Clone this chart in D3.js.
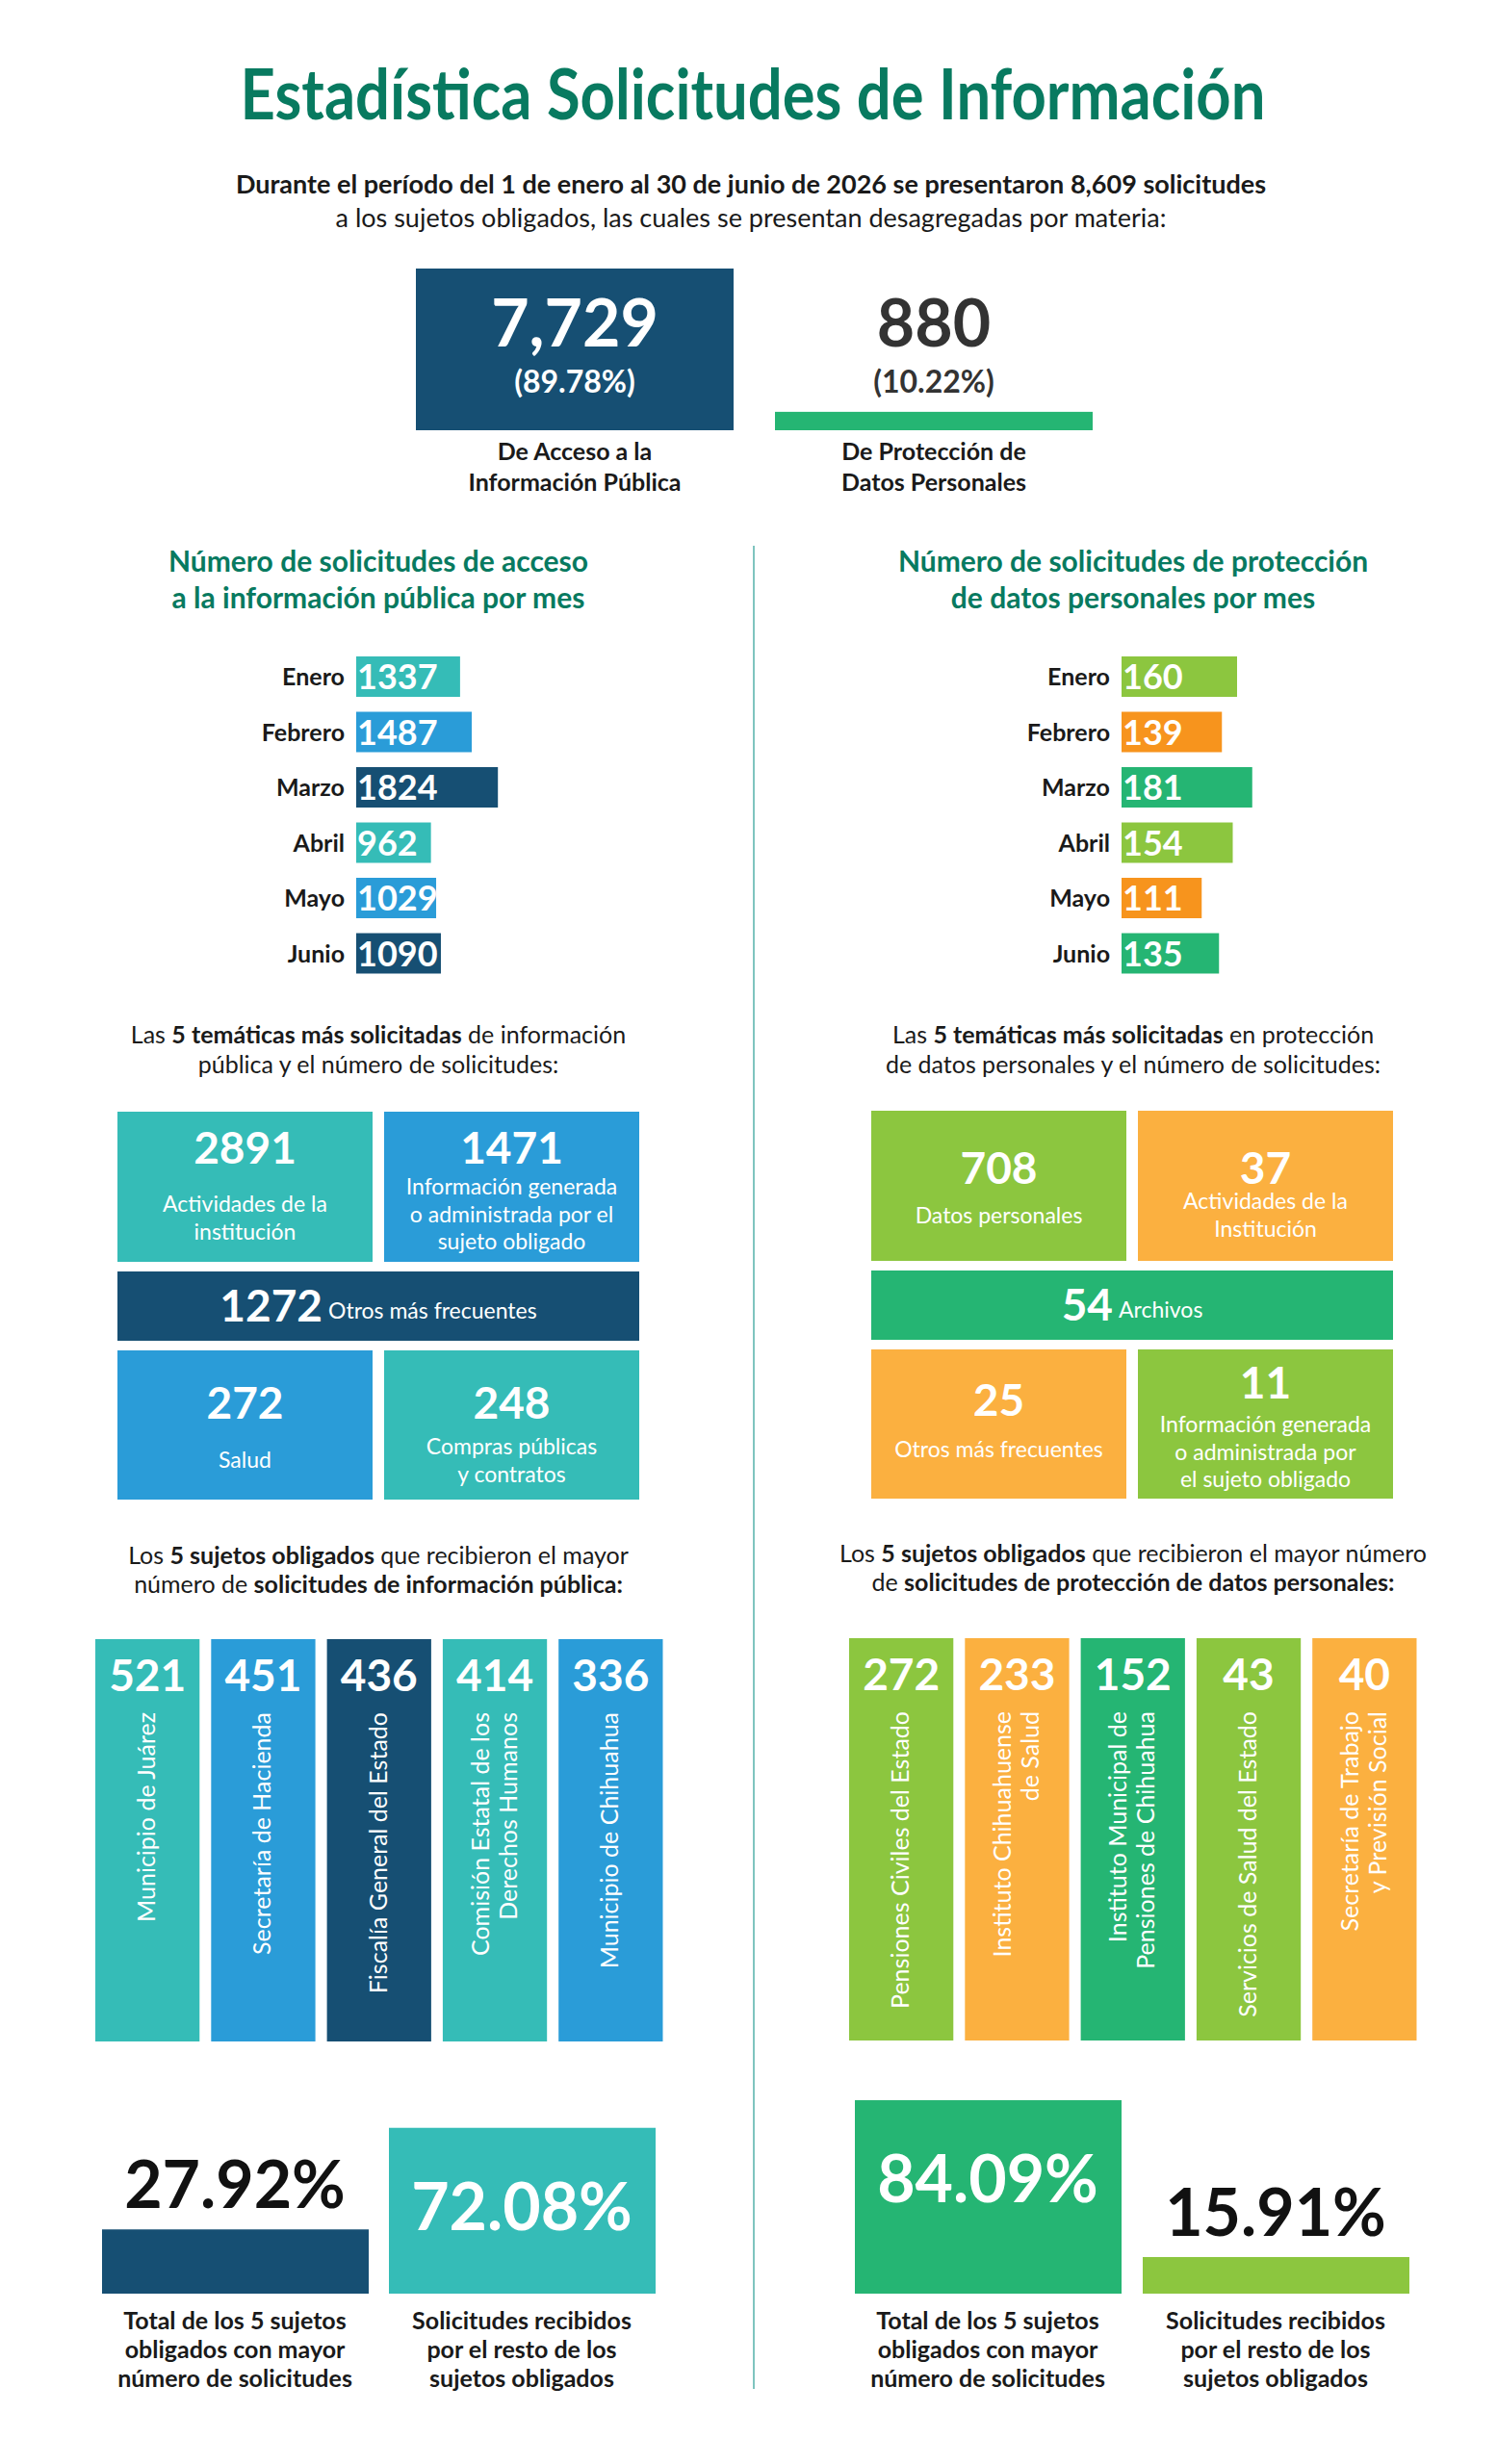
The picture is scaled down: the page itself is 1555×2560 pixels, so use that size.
<!DOCTYPE html>
<html>
<head>
<meta charset="utf-8">
<script src="https://cdnjs.cloudflare.com/ajax/libs/d3/7.8.5/d3.min.js"></script>
<style>
  body { margin: 0; background: #fff; }
  svg { display: block; font-family: Lato, "Open Sans", sans-serif; }
</style>
</head>
<body>
<svg id="chart" width="1555" height="2560"></svg>
<script>
// ---- data ----
var totalAcceso = 7729, totalDatos = 880;
var months = ['Enero', 'Febrero', 'Marzo', 'Abril', 'Mayo', 'Junio'];
var accesoMes = [1337, 1487, 1824, 962, 1029, 1090];
var datosMes = [160, 139, 181, 154, 111, 135];
var temasAcceso = [2891, 1471, 1272, 272, 248];
var temasAccesoLbl = [['Actividades de la', 'institución'], ['Información generada', 'o administrada por el', 'sujeto obligado'], ['Otros más frecuentes'], ['Salud'], ['Compras públicas', 'y contratos']];
var temasDatos = [708, 37, 54, 25, 11];
var temasDatosLbl = [['Datos personales'], ['Actividades de la', 'Institución'], ['Archivos'], ['Otros más frecuentes'], ['Información generada', 'o administrada por', 'el sujeto obligado']];
var sujetosAcceso = [521, 451, 436, 414, 336];
var sujetosAccesoLbl = [['Municipio de Juárez'], ['Secretaría de Hacienda'], ['Fiscalía General del Estado'], ['Comisión Estatal de los', 'Derechos Humanos'], ['Municipio de Chihuahua']];
var sujetosDatos = [272, 233, 152, 43, 40];
var sujetosDatosLbl = [['Pensiones Civiles del Estado'], ['Instituto Chihuahuense', 'de Salud'], ['Instituto Municipal de', 'Pensiones de Chihuahua'], ['Servicios de Salud del Estado'], ['Secretaría de Trabajo', 'y Previsión Social']];
var pctAcceso = [27.92, 72.08];
var pctDatos = [84.09, 15.91];
var pctLbl = [['Total de los 5 sujetos', 'obligados con mayor', 'número de solicitudes'], ['Solicitudes recibidos', 'por el resto de los', 'sujetos obligados']];

// ---- colours ----
var C = { teal: '#35bcb7', blue: '#2a9cd8', navy: '#164f73', lime: '#8cc63f', orange: '#f7941d', lorange: '#fbb040', green: '#25b573', title: '#087a60', text: '#1a1a1a' };
var accesoColors = [C.teal, C.blue, C.navy, C.teal, C.blue, C.navy];
var datosColors = [C.lime, C.orange, C.green, C.lime, C.orange, C.green];

var svg = d3.select('#chart');

function lines(g, x, y0, arr, size, weight, fill, lh, anchor) {
  var t = g.append('text').attr('x', x).attr('y', y0)
    .attr('font-size', size).attr('font-weight', weight).attr('fill', fill)
    .attr('text-anchor', anchor || 'middle');
  arr.forEach(function(l, i) {
    t.append('tspan').attr('x', x).attr('y', y0 + i * lh).text(l);
  });
  return t;
}
// text with mixed bold parts: parts = [[text, bold], ...]
function rich(x, y, parts, size) {
  var t = svg.append('text').attr('x', x).attr('y', y).attr('text-anchor', 'middle')
    .attr('font-size', size).attr('fill', C.text);
  parts.forEach(function(p) {
    t.append('tspan').attr('font-weight', p[1] ? 700 : 400).text(p[0]);
  });
}

// ---- header ----
svg.append('text').attr('x', 782).attr('y', 124).attr('text-anchor', 'middle')
  .attr('font-size', 72).attr('font-weight', 700).attr('fill', C.title)
  .attr('textLength', 1065).attr('lengthAdjust', 'spacingAndGlyphs')
  .text('Estadística Solicitudes de Información');
svg.append('text').attr('x', 780).attr('y', 201).attr('text-anchor', 'middle')
  .attr('font-size', 27).attr('font-weight', 700).attr('fill', C.text)
  .text('Durante el período del 1 de enero al 30 de junio de 2026 se presentaron 8,609 solicitudes');
svg.append('text').attr('x', 780).attr('y', 236).attr('text-anchor', 'middle')
  .attr('font-size', 27).attr('fill', C.text)
  .text('a los sujetos obligados, las cuales se presentan desagregadas por materia:');

// top comparison
var yTop = d3.scaleLinear().domain([0, totalAcceso]).range([447, 279]);
svg.append('rect').attr('x', 432).attr('width', 330).attr('y', yTop(totalAcceso))
  .attr('height', 447 - yTop(totalAcceso)).attr('fill', C.navy);
svg.append('rect').attr('x', 805).attr('width', 330).attr('y', yTop(totalDatos))
  .attr('height', 447 - yTop(totalDatos)).attr('fill', C.green);
svg.append('text').attr('x', 597).attr('y', 360).attr('text-anchor', 'middle').attr('font-size', 68)
  .attr('font-weight', 700).attr('fill', '#fff').text(d3.format(',')(totalAcceso));
svg.append('text').attr('x', 597).attr('y', 408).attr('text-anchor', 'middle').attr('font-size', 32)
  .attr('font-weight', 700).attr('fill', '#fff').text('(' + (totalAcceso / (totalAcceso + totalDatos) * 100).toFixed(2) + '%)');
svg.append('text').attr('x', 970).attr('y', 360).attr('text-anchor', 'middle').attr('font-size', 68)
  .attr('font-weight', 700).attr('fill', '#333').text(totalDatos);
svg.append('text').attr('x', 970).attr('y', 408).attr('text-anchor', 'middle').attr('font-size', 32)
  .attr('font-weight', 700).attr('fill', '#333').text('(' + (totalDatos / (totalAcceso + totalDatos) * 100).toFixed(2) + '%)');
lines(svg, 597, 478, ['De Acceso a la', 'Información Pública'], 25, 700, C.text, 32);
lines(svg, 970, 478, ['De Protección de', 'Datos Personales'], 25, 700, C.text, 32);

// divider
svg.append('line').attr('x1', 783).attr('x2', 783).attr('y1', 567).attr('y2', 2482)
  .attr('stroke', '#7fc4bf').attr('stroke-width', 2);

// ---- monthly bars ----
lines(svg, 393, 594, ['Número de solicitudes de acceso', 'a la información pública por mes'], 30, 700, C.title, 38);
lines(svg, 1177, 594, ['Número de solicitudes de protección', 'de datos personales por mes'], 30, 700, C.title, 38);

var yMonth = d3.scaleBand().domain(months).range([682 - 7.75, 682 - 7.75 + 6 * 57.5]).paddingInner(0.27).paddingOuter(0.135);
function monthBars(x0, values, scale, colors) {
  var g = svg.append('g');
  var x = d3.scaleLinear().domain([0, d3.max(values)]).range([x0, x0 + scale * d3.max(values)]);
  months.forEach(function(m, i) {
    var y = yMonth(m), h = yMonth.bandwidth();
    g.append('rect').attr('x', x(0)).attr('y', y).attr('width', x(values[i]) - x(0)).attr('height', h).attr('fill', colors[i]);
    g.append('text').attr('x', x0 - 12).attr('y', y + h / 2 + 9).attr('text-anchor', 'end')
      .attr('font-size', 25).attr('font-weight', 700).attr('fill', C.text).text(m);
    g.append('text').attr('x', x0 + 1).attr('y', y + h / 2 + 13).attr('font-size', 36)
      .attr('font-weight', 700).attr('fill', '#fff').text(values[i]);
  });
}
monthBars(370, accesoMes, 0.0807, accesoColors);
monthBars(1165, datosMes, 0.75, datosColors);

// ---- topic tiles ----
rich(393, 1084, [['Las ', 0], ['5 temáticas más solicitadas', 1], [' de información', 0]], 25);
rich(393, 1115, [['pública y el número de solicitudes:', 0]], 25);
rich(1177, 1084, [['Las ', 0], ['5 temáticas más solicitadas', 1], [' en protección', 0]], 25);
rich(1177, 1115, [['de datos personales y el número de solicitudes:', 0]], 25);

function tiles(x0, y0, values, labels, colors, numY, lblY) {
  var W = 265, gap = 12, rows = [[y0, 156], [y0 + 166, 72], [y0 + 248, 155]];
  var cells = [[0, 0, 1], [1, 0, 1], [0, 1, 2], [0, 2, 1], [1, 2, 1]];
  cells.forEach(function(c, i) {
    var x = x0 + c[0] * (W + gap), y = rows[c[1]][0], h = rows[c[1]][1], w = c[2] === 2 ? 2 * W + gap : W;
    svg.append('rect').attr('x', x).attr('y', y).attr('width', w).attr('height', h).attr('fill', colors[i]);
    if (c[2] === 2) {
      var t = svg.append('text').attr('x', x + w / 2).attr('y', y + 52).attr('text-anchor', 'middle').attr('fill', '#fff');
      t.append('tspan').attr('font-size', 46).attr('font-weight', 700).text(values[i]);
      t.append('tspan').attr('font-size', 23).attr('dx', 6).attr('dy', -3).text(labels[i][0]);
    } else {
      svg.append('text').attr('x', x + w / 2).attr('y', y + numY[i]).attr('text-anchor', 'middle')
        .attr('font-size', 46).attr('font-weight', 700).attr('fill', '#fff').text(values[i]);
      lines(svg, x + w / 2, y + lblY[i], labels[i], 23, 400, '#fff', 28.5);
    }
  });
}
tiles(122, 1155, temasAcceso, temasAccesoLbl, [C.teal, C.blue, C.navy, C.blue, C.teal], [54, 54, 0, 71, 71], [104, 86, 0, 122, 108]);
tiles(905, 1154, temasDatos, temasDatosLbl, [C.lime, C.lorange, C.green, C.lorange, C.lime], [76, 76, 0, 69, 51], [117, 102, 0, 112, 86]);

// ---- top 5 entities ----
rich(393, 1625, [['Los ', 0], ['5 sujetos obligados', 1], [' que recibieron el mayor', 0]], 25);
rich(393, 1655, [['número de ', 0], ['solicitudes de información pública:', 1]], 25);
rich(1177, 1623, [['Los ', 0], ['5 sujetos obligados', 1], [' que recibieron el mayor número', 0]], 25);
rich(1177, 1653, [['de ', 0], ['solicitudes de protección de datos personales:', 1]], 25);

function columns(x0, y0, y1, values, labels, colors) {
  var x = d3.scaleBand().domain(d3.range(values.length)).range([x0 - 6, x0 - 6 + 5 * 120.3]).paddingInner(0.1).paddingOuter(0.05);
  values.forEach(function(v, i) {
    var bx = x(i), bw = x.bandwidth();
    svg.append('rect').attr('x', bx).attr('y', y0).attr('width', bw).attr('height', y1 - y0).attr('fill', colors[i]);
    svg.append('text').attr('x', bx + bw / 2).attr('y', y0 + 54).attr('text-anchor', 'middle')
      .attr('font-size', 46).attr('font-weight', 700).attr('fill', '#fff').text(v);
    var n = labels[i].length, cx = bx + bw / 2;
    labels[i].forEach(function(l, j) {
      var lx = cx + (j - (n - 1) / 2) * 29 + 8;
      svg.append('text').attr('transform', 'translate(' + lx + ',' + (y0 + 76) + ') rotate(-90)')
        .attr('text-anchor', 'end').attr('font-size', 25).attr('fill', '#fff').text(l);
    });
  });
}
columns(99, 1703, 2121, sujetosAcceso, sujetosAccesoLbl, [C.teal, C.blue, C.navy, C.teal, C.blue]);
columns(882, 1702, 2120, sujetosDatos, sujetosDatosLbl, [C.lime, C.lorange, C.green, C.lime, C.lorange]);

// ---- percentage blocks ----
var yPct = d3.scaleLinear().domain([0, 100]).range([2383, 2144]);
function pctBlock(xs, values, colors, inside) {
  values.forEach(function(v, i) {
    var y = yPct(v);
    svg.append('rect').attr('x', xs[i]).attr('y', y).attr('width', 277).attr('height', 2383 - y).attr('fill', colors[i]);
    var ty = inside[i] ? y + 106 : y - 22;
    svg.append('text').attr('x', xs[i] + 138).attr('y', ty).attr('text-anchor', 'middle')
      .attr('font-size', 68).attr('font-weight', 700).attr('fill', inside[i] ? '#fff' : '#111').text(v.toFixed(2) + '%');
    lines(svg, xs[i] + 138, 2420, pctLbl[i], 25, 700, C.text, 30);
  });
}
pctBlock([106, 404], pctAcceso, [C.navy, C.teal], [false, true]);
pctBlock([888, 1187], pctDatos, [C.green, C.lime], [true, false]);
</script>
</body>
</html>
